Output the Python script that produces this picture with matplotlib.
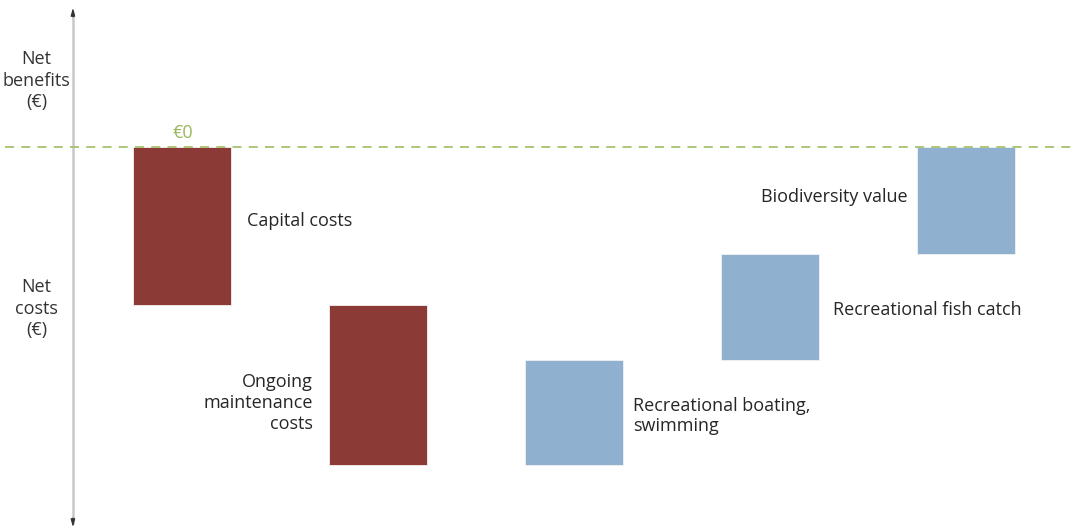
import matplotlib
matplotlib.use("Agg")
import matplotlib.pyplot as plt
import numpy as np

categories = ["Capital costs", "Ongoing\nmaintenance\ncosts", "Recreational boating,\nswimming",
              "Recreational fish catch", "Biodiversity value"]
changes = [-158, -160, 105, 106, 107]
bar_colors = ["#8b3a36", "#8b3a36", "#8fb0ce", "#8fb0ce", "#8fb0ce"]
zero_label = "€0"
benefit_label = "Net\nbenefits\n(€)"
cost_label = "Net\ncosts\n(€)"

plt.rcParams['font.family'] = ['Open Sans', 'DejaVu Sans']

fig = plt.figure(figsize=(10.76, 5.29), dpi=100)
ax = fig.add_axes([0, 0, 1, 1])
ax.set_xlim(-0.931, 4.559)
ax.set_ylim(-382, 147)
ax.axis("off")

x = np.arange(len(changes))
starts = np.concatenate([[0], np.cumsum(changes)[:-1]])
ax.bar(x, changes, bottom=starts, width=0.5, color=bar_colors,
       edgecolor="#f2f2f2", linewidth=0.6, zorder=2)

# zero line
ax.axhline(0, xmin=0.005, xmax=1, color="#a6c26e", linestyle=(0, (5, 4)), linewidth=1.3, zorder=3)
ax.text(x[0], 5, zero_label, color="#9ab85a", ha="center", va="bottom", fontsize=13)

# vertical axis with arrows
ax_x = -0.559
ax.plot([ax_x, ax_x], [136, -377], color="#c8c8c8", lw=1.8, zorder=0, solid_capstyle="butt")
ax.annotate("", xy=(ax_x, 139), xytext=(ax_x, 130), zorder=1,
            arrowprops=dict(arrowstyle="-|>,head_length=0.45,head_width=0.13", color="#333333", lw=0.8,
                            shrinkA=0, shrinkB=0))
ax.annotate("", xy=(ax_x, -380), xytext=(ax_x, -371), zorder=1,
            arrowprops=dict(arrowstyle="-|>,head_length=0.45,head_width=0.13", color="#333333", lw=0.8,
                            shrinkA=0, shrinkB=0))

side_font = dict(fontsize=13, color="#333333", ha="center", va="center", linespacing=1.25)
ax.text(-0.745, 66, benefit_label, **side_font)
ax.text(-0.745, -162, cost_label, **side_font)

lab = dict(fontsize=13, color="#262626", va="center", linespacing=1.18)
ax.text(x[0] + 0.33, -74, categories[0], ha="left", **lab)
ax.text(x[1] - 0.335, -256, categories[1], ha="right", multialignment="right", **lab)
ax.text(x[2] + 0.30, -269, categories[2], ha="left", multialignment="left", **lab)
ax.text(x[3] + 0.32, -163, categories[3], ha="left", **lab)
ax.text(x[4] - 0.30, -50, categories[4], ha="right", **lab)

fig.savefig("out.png", dpi=100)
